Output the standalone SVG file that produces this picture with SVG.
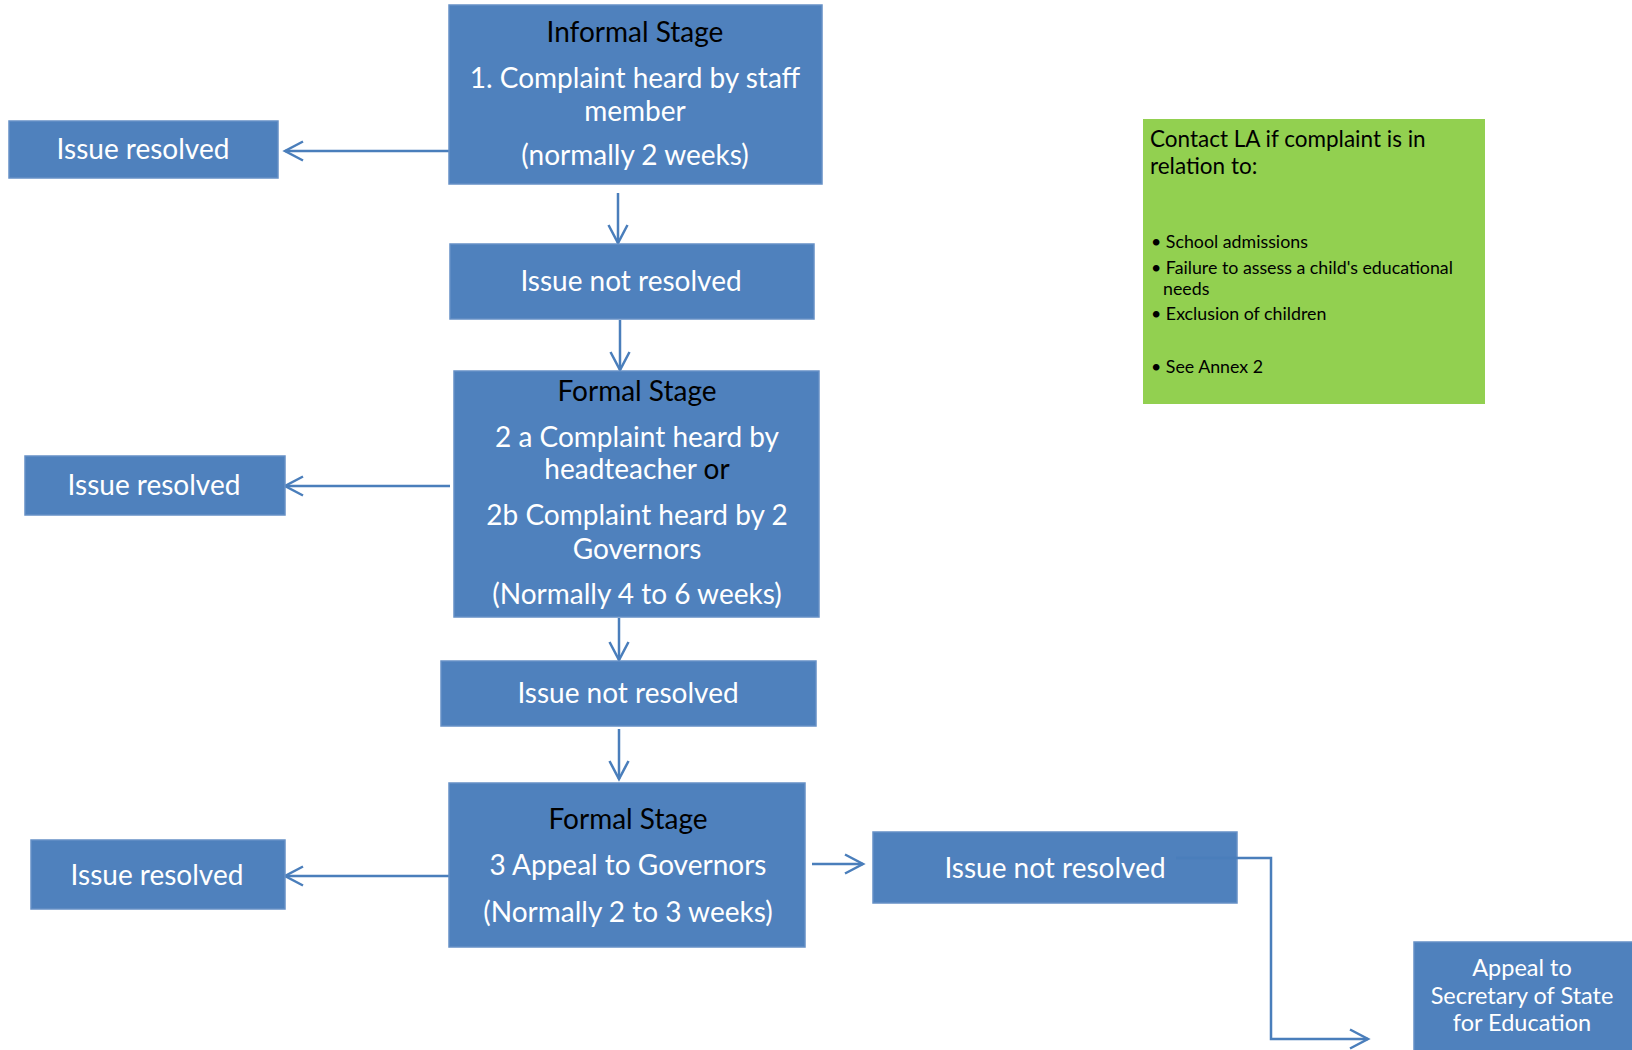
<svg xmlns="http://www.w3.org/2000/svg" width="1632" height="1050" viewBox="0 0 1632 1050">
<style>
.box{fill:#4F81BD;stroke:#6690C6;stroke-width:1.5}
.green{fill:#92D050}
text{font-family:Lato,"Open Sans",sans-serif}
.t{fill:#FFFFFF;font-size:28px;text-anchor:middle}
.h{fill:#000000;font-size:28px;text-anchor:middle}
.s{fill:#FFFFFF;font-size:23.5px;text-anchor:middle}
.g{fill:#000000;font-size:22.5px}
.b{fill:#000000;font-size:17.8px}
.c{fill:none;stroke:#4A7EBB;stroke-width:2.5}
</style>
<defs>
<marker id="ah" viewBox="-20 -12 23 24" refX="0" refY="0" markerWidth="23" markerHeight="24" markerUnits="userSpaceOnUse" orient="auto">
<path d="M-18,-9.5 L0,0 L-18,9.5" fill="none" stroke="#4A7EBB" stroke-width="2.5"/>
</marker>
</defs>
<rect width="1632" height="1050" fill="#FFFFFF"/>
<g id="connectors">
<path class="c" d="M449,151 H285" marker-end="url(#ah)"/>
<path class="c" d="M618,193 V243" marker-end="url(#ah)"/>
<path class="c" d="M620,320 V370" marker-end="url(#ah)"/>
<path class="c" d="M450,486 H285" marker-end="url(#ah)"/>
<path class="c" d="M619,618 V660" marker-end="url(#ah)"/>
<path class="c" d="M619,729 V779" marker-end="url(#ah)"/>
<path class="c" d="M449,876 H285" marker-end="url(#ah)"/>
<path class="c" d="M812,864 H863" marker-end="url(#ah)"/>
</g>
<g id="informal">
<rect class="box" x="449" y="5" width="373" height="179"/>
<text class="h" x="635" y="41.5">Informal Stage</text>
<text class="t" x="635" y="87.5">1. Complaint heard by staff</text>
<text class="t" x="635" y="120.5">member</text>
<text class="t" x="635" y="165">(normally 2 weeks)</text>
</g>
<g id="resolved1">
<rect class="box" x="9" y="121" width="269" height="57"/>
<text class="t" x="143" y="158.5">Issue resolved</text>
</g>
<g id="notresolved1">
<rect class="box" x="450" y="244" width="364" height="75"/>
<text class="t" x="631" y="291">Issue not resolved</text>
</g>
<g id="formal2">
<rect class="box" x="454" y="371" width="365" height="246"/>
<text class="h" x="637" y="401">Formal Stage</text>
<text class="t" x="637" y="447">2 a Complaint heard by</text>
<text class="t" x="637" y="479">headteacher <tspan fill="#000000">or</tspan></text>
<text class="t" x="637" y="525">2b Complaint heard by 2</text>
<text class="t" x="637" y="559">Governors</text>
<text class="t" x="637" y="604">(Normally 4 to 6 weeks)</text>
</g>
<g id="resolved2">
<rect class="box" x="25" y="456" width="260" height="59"/>
<text class="t" x="154" y="495">Issue resolved</text>
</g>
<g id="notresolved2">
<rect class="box" x="441" y="661" width="375" height="65"/>
<text class="t" x="628" y="703">Issue not resolved</text>
</g>
<g id="formal3">
<rect class="box" x="449" y="783" width="356" height="164"/>
<text class="h" x="628" y="829">Formal Stage</text>
<text class="t" x="628" y="875">3 Appeal to Governors</text>
<text class="t" x="628" y="922">(Normally 2 to 3 weeks)</text>
</g>
<g id="resolved3">
<rect class="box" x="31" y="840" width="254" height="69"/>
<text class="t" x="157" y="884.5">Issue resolved</text>
</g>
<g id="notresolved3">
<rect class="box" x="873" y="832" width="364" height="71"/>
<text class="t" x="1055" y="878">Issue not resolved</text>
</g>
<g id="appeal">
<rect class="box" x="1414" y="942" width="220" height="112"/>
<text class="s" x="1522" y="976">Appeal to</text>
<text class="s" x="1522" y="1004">Secretary of State</text>
<text class="s" x="1522" y="1031">for Education</text>
</g>
<g id="connector-elbow">
<path class="c" d="M1176,858 H1271 V1039 H1368" marker-end="url(#ah)"/>
</g>
<g id="contactLA">
<rect class="green" x="1143" y="119" width="342" height="285"/>
<text class="g" x="1150" y="147">Contact LA if complaint is in</text>
<text class="g" x="1150" y="174">relation to:</text>
<text class="b" x="1151" y="247.5">• School admissions</text>
<text class="b" x="1151" y="274">• Failure to assess a child's educational</text>
<text class="b" x="1163" y="295">needs</text>
<text class="b" x="1151" y="320">• Exclusion of children</text>
<text class="b" x="1151" y="372.5">• See Annex 2</text>
</g>
</svg>
